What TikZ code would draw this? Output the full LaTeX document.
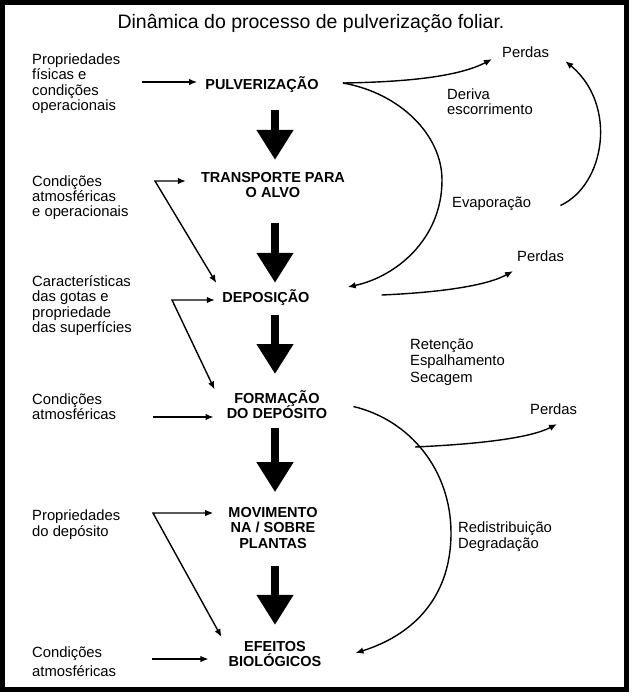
\documentclass[tikz,border=0pt]{standalone}
\usepackage{fontspec}
\setmainfont{Liberation Sans}
\usetikzlibrary{arrows.meta}

\tikzset{
  lbl/.style={font={\fontsize{14.8}{15.3}\selectfont}, align=left, inner sep=0pt, anchor=west},
  stage/.style={font={\fontsize{14.5}{15.5}\selectfont\bfseries\lineskiplimit=-\maxdimen}, align=center, inner sep=0pt},
  arr/.style={line width=1.4pt, -{Latex[length=8pt,width=6.5pt]}},
  arrboth/.style={line width=1.4pt, {Latex[length=8pt,width=6.5pt]}-{Latex[length=8pt,width=6.5pt]}},
  bigarrow/.style={line width=8pt, -{Triangle[width=35pt,length=30pt]}},
}

\begin{document}
\begin{tikzpicture}[x=1pt, y=-1pt]
    \useasboundingbox (0,0) rectangle (632,696);
    % Frame and title
    \draw[line width=5pt] (2.5,2.5) rectangle (626.5,689.5);
    \node[font=\fontsize{19.5}{22}\selectfont] (title) at (311,23) {Dinâmica do processo de pulverização foliar.};
    % Stages
    \node[stage] (pulv) at (262,85) {PULVERIZAÇÃO};
    \node[stage] (trans) at (273,185) {TRANSPORTE PARA\\O ALVO};
    \node[stage] (depo) at (266,298) {DEPOSIÇÃO};
    \node[stage] (form) at (277,404.5) {FORMAÇÃO\\DO DEPÓSITO};
    \node[stage] (movi) at (273,528) {MOVIMENTO\\NA / SOBRE\\PLANTAS};
    \node[stage] (efei) at (275,654) {EFEITOS\\BIOLÓGICOS};
    \coordinate (ax) at (275,0);
    \foreach \a/\b/\ds/\de in {pulv/trans/17pt/12pt, trans/depo/25pt/7pt, depo/form/9pt/16pt, form/movi/9pt/15pt, movi/efei/17pt/16pt}
        \draw[bigarrow, shorten <=\ds, shorten >=\de] (ax |- \a.south) -- (ax |- \b.north);
    % Factors on the left
    \node[lbl] (propA) at (32,83.6) {Propriedades\\físicas e\\condições\\operacionais};
    \node[lbl] (condA) at (32,197.6) {Condições\\atmosféricas\\e operacionais};
    \node[lbl] (caract) at (32,305.6) {Características\\das gotas e\\propriedade\\das superfícies};
    \node[lbl] (condB) at (32,406.6) {Condições\\atmosféricas};
    \node[lbl] (propB) at (32,524.6) {Propriedades\\do depósito};
    \node[lbl] (condC) at (32,661.6) {Condições\\[3.7pt]atmosféricas};
    \coordinate (jPulv) at (142,82);
    \coordinate (jTrans) at (155,181);
    \coordinate (jDepo) at (172,300);
    \coordinate (jForm) at (153,417);
    \coordinate (jMovi) at (153,513);
    \coordinate (jEfei) at (152,659);
    \draw[arr, shorten >=8pt] (jPulv) -- (jPulv -| pulv.west);
    \draw[arrboth, shorten >=15pt] ([shift={(-6,-15)}]depo.west) -- (jTrans) -- (jTrans -| trans.west);
    \draw[arrboth, shorten >=7.5pt] ([shift={(-12,-15)}]form.west) -- (jDepo) -- (jDepo -| depo.west);
    \draw[arr, shorten >=13pt] (jForm) -- (jForm -| form.west);
    \draw[arrboth, shorten >=15pt] ([shift={(-7,-17)}]efei.west) -- (jMovi) -- (jMovi -| movi.west);
    \draw[arr, shorten >=20pt] (jEfei) -- (jEfei -| efei.west);
    % Losses and processes on the right
    \node[lbl] (perdasA) at (502,52.1) {Perdas};
    \node[lbl] (deriva) at (447,101.6) {Deriva\\escorrimento};
    \node[lbl] (evap) at (452,203.5) {Evaporação};
    \node[lbl] (perdasB) at (517,256.1) {Perdas};
    \node[lbl] (reten) at (410,362.2) {Retenção\\[1.2pt]Espalhamento\\[1.2pt]Secagem};
    \node[lbl] (perdasC) at (530,409.1) {Perdas};
    \node[lbl] (redis) at (458,536.6) {Redistribuição\\Degradação};
    \coordinate (pOut) at ([shift={(24,-2)}]pulv.east);
    \draw[arr] (pOut) .. controls (410,82) and (460,76) .. ([shift={(-10,7)}]perdasA.west);
    \draw[arr] (pOut) .. controls (400,93) and (442,135) .. (442,180)
        .. controls (442,240) and (395,277) .. ([shift={(38,-11)}]depo.east);
    \draw[arr] ([shift={(29,2)}]evap.east) .. controls (605,185) and (618,105) .. ([shift={(16,9)}]perdasA.east);
    \draw[arr] ([shift={(72,-3)}]depo.east) .. controls (450,292) and (490,284) .. ([shift={(-4,15)}]perdasB.west);
    \draw[arr] ([shift={(26,2)}]form.east) .. controls (410,420) and (451,470) .. (451,533)
        .. controls (451,600) and (410,636) .. ([shift={(34,-1)}]efei.east);
    \coordinate (fOut) at (415,447);
    \draw[arr] (fOut) .. controls (480,444) and (530,438) .. ([shift={(27,15)}]perdasC.west);
\end{tikzpicture}
\end{document}
